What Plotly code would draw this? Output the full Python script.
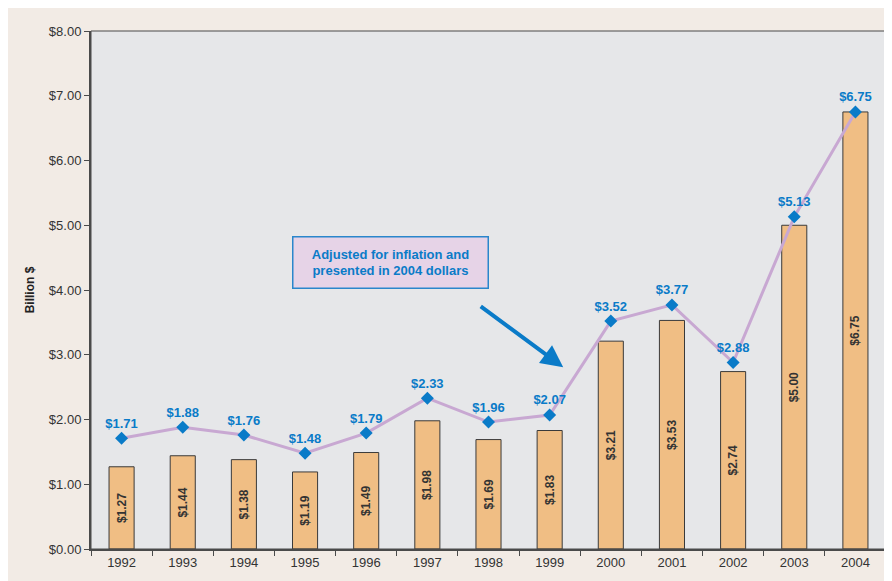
import plotly.graph_objects as go

years = ['1992', '1993', '1994', '1995', '1996', '1997', '1998',
         '1999', '2000', '2001', '2002', '2003', '2004']
nominal = [1.27, 1.44, 1.38, 1.19, 1.49, 1.98, 1.69, 1.83, 3.21, 3.53, 2.74, 5.00, 6.75]
adjusted = [1.71, 1.88, 1.76, 1.48, 1.79, 2.33, 1.96, 2.07, 3.52, 3.77, 2.88, 5.13, 6.75]
y_ticks = [0, 1, 2, 3, 4, 5, 6, 7, 8]

colors = {
    'panel': '#f2ebe5',
    'plot': '#e6e7e9',
    'bar': '#f0be84',
    'line': '#c8a8d2',
    'blue': '#0a7bc8',
    'axis': '#4a4a4a',
    'text': '#333333',
}
font = 'Liberation Sans, Arial, Helvetica, sans-serif'

fig = go.Figure()

fig.add_trace(go.Bar(
    x=years,
    y=nominal,
    width=0.41,
    marker=dict(color=colors['bar'], line=dict(color='#3a3a3a', width=1)),
    text=['<b>$%.2f</b>' % v for v in nominal],
    textposition='inside',
    insidetextanchor='middle',
    textangle=-90,
    textfont=dict(family=font, size=12, color=colors['text']),
    hoverinfo='skip',
))

fig.add_trace(go.Scatter(
    x=years,
    y=adjusted,
    mode='lines+markers+text',
    line=dict(color=colors['line'], width=3),
    marker=dict(symbol='diamond', size=10, color=colors['blue']),
    text=['<b>$%.2f</b>' % v for v in adjusted],
    textposition='top center',
    textfont=dict(family=font, size=13, color=colors['blue']),
    cliponaxis=False,
))

# thin frame round the plot area
fig.add_shape(type='rect', xref='paper', yref='paper',
              x0=0, x1=1, y0=0, y1=1,
              line=dict(color=colors['axis'], width=1))

fig.add_annotation(
    xref='paper', yref='paper', x=0.377, y=0.554,
    text='<b>Adjusted for inflation and<br>presented in 2004 dollars</b>',
    showarrow=False,
    font=dict(family=font, size=13, color=colors['blue']),
    bgcolor='#e6d3e7', bordercolor='#2a86cc', borderwidth=1.5,
    width=192, height=48,
)
fig.add_annotation(
    xref='paper', yref='paper', x=0.594, y=0.351,
    ax=-84, ay=-62, text='',
    showarrow=True, arrowhead=2, arrowsize=1.1, arrowwidth=4,
    arrowcolor=colors['blue'],
)

# page body adds ~8px margin, so the figure is 8px smaller than the window
fig.update_layout(
    width=884, height=573,
    margin=dict(l=83, r=6, t=23, b=32),
    paper_bgcolor=colors['panel'],
    plot_bgcolor=colors['plot'],
    showlegend=False,
    bargap=0.59,
    font=dict(family=font, size=13, color=colors['text']),
    xaxis=dict(
        type='category',
        range=[-0.5, 12.5],
        showline=True, linecolor=colors['axis'], linewidth=2,
        ticks='outside', tickson='boundaries', ticklen=5,
        tickcolor=colors['axis'], showgrid=False,
        tickfont=dict(size=13, color=colors['text']),
    ),
    yaxis=dict(
        range=[0, 8],
        tickvals=y_ticks,
        ticktext=['$%.2f' % v for v in y_ticks],
        showline=True, linecolor=colors['axis'], linewidth=2,
        ticks='outside', ticklen=5, tickcolor=colors['axis'],
        showgrid=False, zeroline=False,
        tickfont=dict(size=13, color=colors['text']),
        title=dict(text='<b>Billion $</b>', font=dict(size=12, color='#222'), standoff=12),
    ),
)

fig.write_html("out.html", post_script="document.body.style.overflow='hidden';")
